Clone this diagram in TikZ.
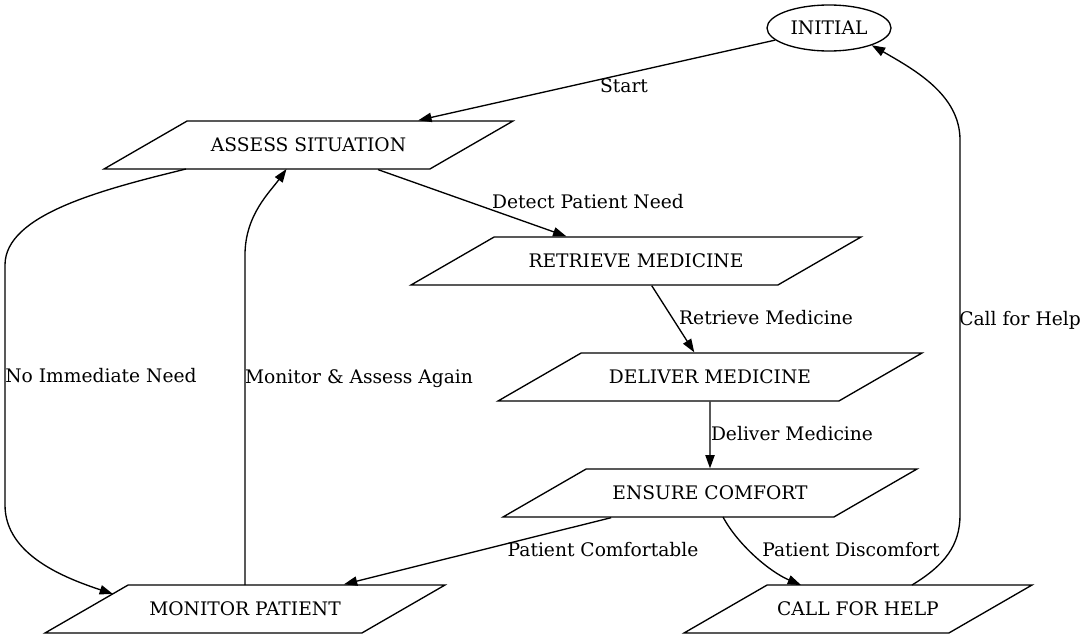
\documentclass[tikz,border=0pt]{standalone}
\usepackage{fontspec}
\setmainfont{DejaVu Serif}
\usetikzlibrary{calc,shapes.geometric,arrows.meta}

\begin{document}
\begin{tikzpicture}[x=0.75pt,y=-0.75pt,font=\fontsize{14}{17}\selectfont,
  state/.style={trapezium, trapezium left angle=30, trapezium right angle=150,
    trapezium stretches body, draw, line width=1pt, inner xsep=0pt, inner ysep=13pt,
    text height=10pt, text depth=0pt, minimum width=#1*0.75pt},
  initstate/.style={ellipse, draw, line width=1pt, inner sep=0pt,
    minimum width=124*0.75pt, minimum height=46*0.75pt},
  trans/.style={line width=1pt, -{Triangle[length=10pt,width=7pt]}}]
\useasboundingbox (0,0) rectangle (1087,639);

% states
\node[initstate] (init) at (829,28) {INITIAL};
\node[state=409] (assess) at (308.5,145) {ASSESS SITUATION};
\node[state=450] (retrieve) at (636,261) {RETRIEVE MEDICINE};
\node[state=424] (deliver) at (710,377) {DELIVER MEDICINE};
\node[state=414] (ensure) at (710,493) {ENSURE COMFORT};
\node[state=400] (monitor) at (245,609) {MONITOR PATIENT};
\node[state=348] (help) at (858,609) {CALL FOR HELP};

% transitions
\draw[trans] (init) -- (assess);
\draw[trans] (assess) -- (retrieve);
\draw[trans] (retrieve) -- (deliver);
\draw[trans] (deliver) -- (ensure);
\draw[trans] (ensure) -- (monitor);
\draw[trans] ($(ensure.center)+(13,24)$) .. controls (738,545) and (770,572) .. ($(help.center)+(-57,-24)$);
\draw[trans] ($(help.center)+(54,-24)$) .. controls (945,565) and (960,545) .. (960,515)
  -- (960,140) .. controls (960,95) and (915,70) .. (init.-22);
\draw[trans] ($(assess.center)+(-122.5,24)$) .. controls (100,190) and (5,215) .. (5,265)
  -- (5,505) .. controls (5,555) and (65,578) .. ($(monitor.center)+(-132,-15)$);
\draw[trans] ($(monitor.center)+(0,-24)$) -- (245,255) .. controls (245,215) and (270,192) .. ($(assess.center)+(-22,24)$);

% labels
\node (lstart) at (624,86) {Start};
\node (ldetect) at (588,202) {Detect Patient Need};
\node (lretrieve) at (766,318) {Retrieve Medicine};
\node (ldeliver) at (792,434) {Deliver Medicine};
\node (lcomfort) at (603,550) {Patient Comfortable};
\node (ldiscomfort) at (851,550) {Patient Discomfort};
\node (lhelp) at (1020,320) {Call for Help};
\node (lnoneed) at (101,376) {No Immediate Need};
\node (lagain) at (359,378.5) {Monitor \& Assess Again};
\end{tikzpicture}
\end{document}
